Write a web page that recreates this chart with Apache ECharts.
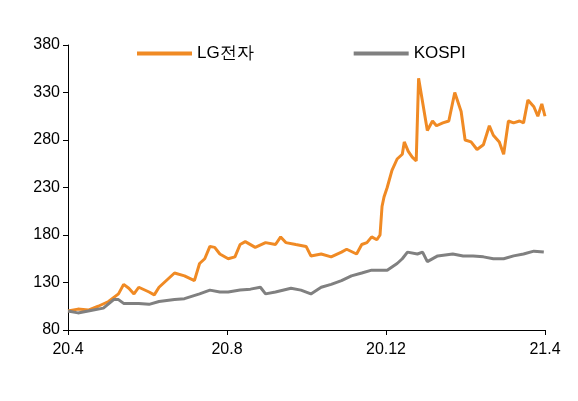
<!DOCTYPE html><html><head><meta charset="utf-8"><script src="https://cdn.jsdelivr.net/npm/echarts@6/dist/echarts.min.js"></script></head><body style="margin:0"><div id="c" style="width:578px;height:401px"></div><script>
const xTicks={0:'20.4',4:'20.8',8:'20.12',12:'21.4'};
const lgMonths=[0,.25,.51,.76,1.02,1.27,1.40,1.53,1.66,1.78,2.04,2.17,2.29,2.55,2.68,2.93,3.18,3.31,3.44,3.57,3.69,3.82,4.03,4.20,4.33,4.46,4.71,4.97,5.22,5.35,5.48,5.73,5.99,6.11,6.37,6.62,6.88,7.01,7.26,7.39,7.52,7.64,7.77,7.85,7.90,7.95,8.03,8.15,8.28,8.41,8.46,8.56,8.66,8.76,8.82,8.92,9.04,9.17,9.27,9.43,9.58,9.73,9.89,9.99,10.14,10.29,10.45,10.60,10.70,10.85,10.96,11.08,11.21,11.36,11.46,11.57,11.72,11.82,11.92,12];
const lgValues=[100,102,101,105,110,118,128,124,118,125,120,117,125,135,140,137,132,150,155,168,167,160,155,157,170,173,167,172,170,178,172,170,168,158,160,157,162,165,160,170,172,178,175,180,210,220,230,248,260,265,278,268,262,258,345,320,290,300,295,298,300,330,310,280,278,270,275,295,285,278,265,300,298,300,298,322,315,305,318,305];
const kMonths=[0,.25,.51,.89,1.15,1.27,1.40,1.78,2.04,2.29,2.68,2.93,3.31,3.57,3.82,4.03,4.33,4.59,4.84,4.97,5.22,5.61,5.86,6.11,6.37,6.62,6.88,7.13,7.39,7.64,8.03,8.28,8.41,8.54,8.79,8.92,9.04,9.30,9.68,9.94,10.19,10.45,10.70,10.96,11.21,11.46,11.72,11.97];
const kValues=[100,98,100,103,112,112,108,108,107,110,112,113,118,122,120,120,122,123,125,118,120,124,122,118,125,128,132,137,140,143,143,150,155,162,160,162,152,158,160,158,158,157,155,155,158,160,163,162];
const z=(a,b)=>a.map((v,i)=>[v,b[i]]);
const ch=echarts.init(document.getElementById('c'));
ch.setOption({animation:false,
legend:{top:40,left:132,itemGap:100,itemWidth:55,itemHeight:4,icon:'rect',textStyle:{fontSize:17,color:'#000',fontFamily:'Liberation Sans'},data:['LG전자','KOSPI']},
grid:{left:68,right:33,top:45,bottom:71},
xAxis:{type:'value',min:0,max:12,interval:4,axisLine:{lineStyle:{color:'#000'}},axisTick:{show:true,lineStyle:{color:'#000'}},splitLine:{show:false},axisLabel:{fontSize:16,color:'#000',fontFamily:'Liberation Sans',margin:12,formatter:v=>xTicks[v]||''}},
yAxis:{type:'value',min:80,max:380,interval:50,axisLine:{show:true,lineStyle:{color:'#000'}},axisTick:{show:true,lineStyle:{color:'#000'}},splitLine:{show:false},axisLabel:{fontSize:16,color:'#000',fontFamily:'Liberation Sans'}},
series:[{name:'LG전자',type:'line',data:z(lgMonths,lgValues),showSymbol:false,lineStyle:{width:3,color:'#F08A24'},itemStyle:{color:'#F08A24'}},
{name:'KOSPI',type:'line',data:z(kMonths,kValues),showSymbol:false,lineStyle:{width:3,color:'#808080'},itemStyle:{color:'#808080'}}]});
</script></body></html>
